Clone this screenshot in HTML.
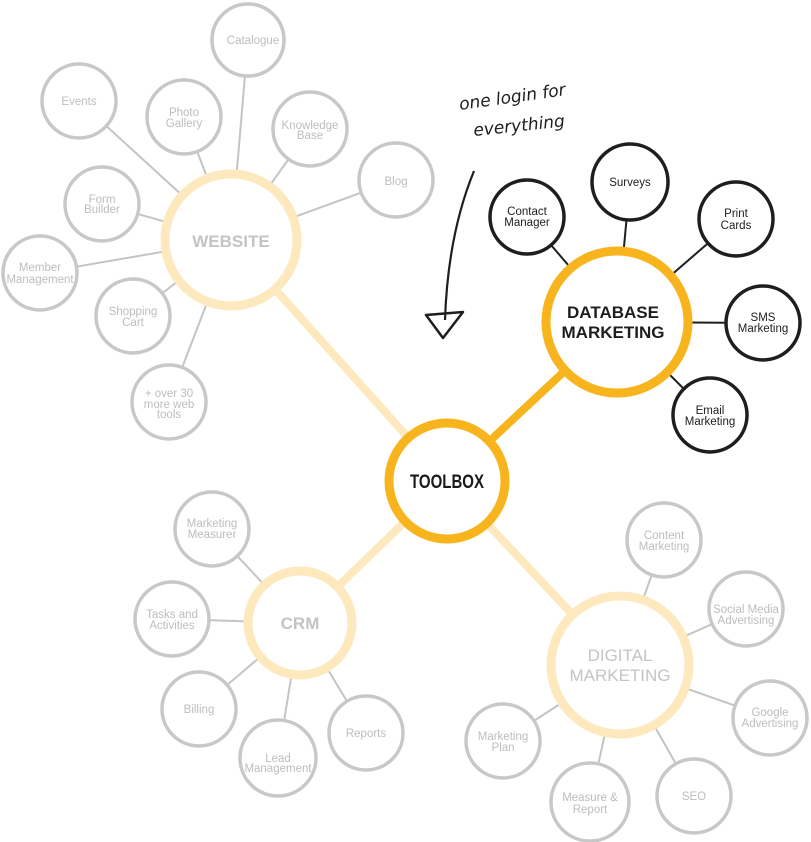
<!DOCTYPE html>
<html><head><meta charset="utf-8"><style>
html,body{margin:0;padding:0;background:#fff;}
svg{display:block;font-family:"Liberation Sans",Arial,sans-serif;}
.g{fill:#fff;stroke:#c8c8c8;stroke-width:3.5}
.b{fill:#fff;stroke:#1e1e1e;stroke-width:3.5}
.gl{stroke:#c4c4c4;stroke-width:2}
.bl{stroke:#1e1e1e;stroke-width:2}
.gt{fill:#bdbdbd;font-size:11.5px;text-anchor:middle}
.bt{fill:#1e1e1e;font-size:11.5px;text-anchor:middle}
</style></head><body>
<svg width="811" height="842" viewBox="0 0 811 842">
<g stroke="#fde9bd" stroke-width="8">
<line x1="231" y1="240" x2="447" y2="481"/>
<line x1="300" y1="623" x2="447" y2="481"/>
<line x1="620" y1="665" x2="447" y2="481"/>
</g>
<line x1="617" y1="322" x2="447" y2="481" stroke="#f7b41c" stroke-width="8"/>
<g class="gl">
<line x1="231" y1="240" x2="248" y2="40"/>
<line x1="231" y1="240" x2="79" y2="101"/>
<line x1="231" y1="240" x2="184" y2="117"/>
<line x1="231" y1="240" x2="310" y2="129"/>
<line x1="231" y1="240" x2="396" y2="180"/>
<line x1="231" y1="240" x2="102" y2="204"/>
<line x1="231" y1="240" x2="40" y2="273"/>
<line x1="231" y1="240" x2="133" y2="316"/>
<line x1="231" y1="240" x2="169" y2="402"/>
<line x1="300" y1="623" x2="212" y2="529"/>
<line x1="300" y1="623" x2="172" y2="619"/>
<line x1="300" y1="623" x2="199" y2="709"/>
<line x1="300" y1="623" x2="278" y2="758"/>
<line x1="300" y1="623" x2="366" y2="733"/>
<line x1="620" y1="665" x2="664" y2="540"/>
<line x1="620" y1="665" x2="746" y2="609"/>
<line x1="620" y1="665" x2="770" y2="718"/>
<line x1="620" y1="665" x2="694" y2="796"/>
<line x1="620" y1="665" x2="590" y2="802"/>
<line x1="620" y1="665" x2="503" y2="741"/>
</g>
<g class="bl">
<line x1="617" y1="322" x2="527" y2="217"/>
<line x1="617" y1="322" x2="630" y2="182"/>
<line x1="617" y1="322" x2="736" y2="219"/>
<line x1="617" y1="322" x2="763" y2="323"/>
<line x1="617" y1="322" x2="710" y2="415"/>
</g>
<circle cx="231" cy="240" r="66" fill="#fff" stroke="#fde9bd" stroke-width="9"/>
<circle cx="300" cy="623" r="52" fill="#fff" stroke="#fde9bd" stroke-width="9"/>
<circle cx="620" cy="665" r="69" fill="#fff" stroke="#fde9bd" stroke-width="9"/>
<circle cx="617" cy="322" r="71" fill="#fff" stroke="#f7b41c" stroke-width="9"/>
<circle cx="447" cy="481" r="58" fill="#fff" stroke="#f7b41c" stroke-width="9"/>
<text x="231" y="247" font-size="17" font-weight="bold" fill="#c4c4c4" text-anchor="middle">WEBSITE</text>
<text x="300" y="629" font-size="17" font-weight="bold" fill="#c4c4c4" text-anchor="middle">CRM</text>
<text x="620" y="661" font-size="17" fill="#c4c4c4" text-anchor="middle">DIGITAL</text>
<text x="620" y="681" font-size="17" fill="#c4c4c4" text-anchor="middle">MARKETING</text>
<text x="613" y="318" font-size="17" font-weight="bold" fill="#1e1e1e" text-anchor="middle">DATABASE</text>
<text x="613" y="338" font-size="17" font-weight="bold" fill="#1e1e1e" text-anchor="middle">MARKETING</text>
<text x="410" y="488" font-size="19" font-weight="900" fill="#1a1a1a" textLength="74" lengthAdjust="spacingAndGlyphs">TOOLBOX</text>
<g class="g">
<circle cx="248" cy="40" r="36"/><circle cx="79" cy="101" r="37"/><circle cx="184" cy="117" r="37"/>
<circle cx="310" cy="129" r="37"/><circle cx="396" cy="180" r="37"/><circle cx="102" cy="204" r="37"/>
<circle cx="40" cy="273" r="37"/><circle cx="133" cy="316" r="37"/><circle cx="169" cy="402" r="37"/>
<circle cx="212" cy="529" r="37"/><circle cx="172" cy="619" r="37"/><circle cx="199" cy="709" r="37"/>
<circle cx="278" cy="758" r="38"/><circle cx="366" cy="733" r="37"/>
<circle cx="664" cy="540" r="37"/><circle cx="746" cy="609" r="37"/><circle cx="770" cy="718" r="37"/>
<circle cx="694" cy="796" r="37"/><circle cx="590" cy="802" r="39"/><circle cx="503" cy="741" r="37"/>
</g>
<g class="b">
<circle cx="527" cy="217" r="37"/><circle cx="630" cy="182" r="38"/><circle cx="736" cy="219" r="37"/>
<circle cx="763" cy="323" r="37"/><circle cx="710" cy="415" r="37"/>
</g>
<g class="gt">
<text x="253" y="44">Catalogue</text>
<text x="79" y="105">Events</text>
<text x="184" y="116">Photo</text><text x="184" y="127">Gallery</text>
<text x="310" y="129">Knowledge</text><text x="310" y="139">Base</text>
<text x="396" y="185">Blog</text>
<text x="102" y="203">Form</text><text x="102" y="213">Builder</text>
<text x="40" y="271">Member</text><text x="40" y="283">Management</text>
<text x="133" y="315">Shopping</text><text x="133" y="326">Cart</text>
<text x="169" y="397">+ over 30</text><text x="169" y="408">more web</text><text x="169" y="418">tools</text>
<text x="212" y="527">Marketing</text><text x="212" y="538">Measurer</text>
<text x="172" y="618">Tasks and</text><text x="172" y="629">Activities</text>
<text x="199" y="713">Billing</text>
<text x="278" y="762">Lead</text><text x="278" y="772">Management</text>
<text x="366" y="737">Reports</text>
<text x="664" y="539">Content</text><text x="664" y="550">Marketing</text>
<text x="746" y="613">Social Media</text><text x="746" y="624">Advertising</text>
<text x="770" y="716">Google</text><text x="770" y="727">Advertising</text>
<text x="694" y="800">SEO</text>
<text x="590" y="801">Measure &amp;</text><text x="590" y="813">Report</text>
<text x="503" y="740">Marketing</text><text x="503" y="751">Plan</text>
</g>
<g class="bt">
<text x="527" y="215">Contact</text><text x="527" y="226">Manager</text>
<text x="630" y="186">Surveys</text>
<text x="736" y="217">Print</text><text x="736" y="229">Cards</text>
<text x="763" y="321">SMS</text><text x="763" y="332">Marketing</text>
<text x="710" y="414">Email</text><text x="710" y="425">Marketing</text>
</g>
<text x="460" y="110" font-family="'DejaVu Sans',sans-serif" font-style="italic" font-size="17" fill="#1e1e1e" transform="rotate(-8 460 110)">one login for</text>
<text x="474" y="136" font-family="'DejaVu Sans',sans-serif" font-style="italic" font-size="17" fill="#1e1e1e" transform="rotate(-6 474 136)">everything</text>
<path d="M474 171 C458 210 447 260 445 320" fill="none" stroke="#1e1e1e" stroke-width="2.2"/>
<path d="M426 315 L463 312 L443 338 Z" fill="none" stroke="#1e1e1e" stroke-width="2.5" stroke-linejoin="round"/>
</svg>
</body></html>
